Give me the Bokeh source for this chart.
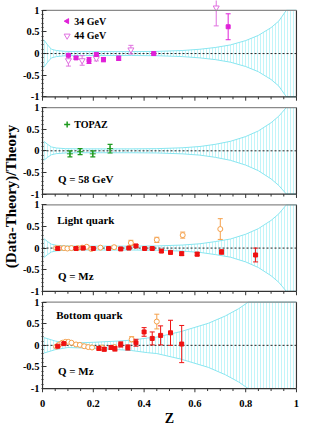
import numpy as np
from bokeh.plotting import figure
from bokeh.models import Range1d, FixedTicker, Label, Title
from bokeh.embed import file_html
from bokeh.resources import INLINE

# ---------------- data ----------------
x_ticks = [0.0, 0.2, 0.4, 0.6, 0.8, 1.0]
x_tick_labels = ["0", "0.2", "0.4", "0.6", "0.8", "1"]
y_ticks = [-1.0, -0.5, 0.0, 0.5, 1.0]
y_tick_labels = ["-1", "-0.5", "0", "0.5", "1"]

# theory uncertainty band (half width) for light-quark panels
band_z = [0.005, 0.02, 0.035, 0.055, 0.09, 0.15, 0.25, 0.35, 0.45, 0.55,
          0.62, 0.68, 0.74, 0.80, 0.85, 0.90, 0.93, 0.96, 1.0]
band_hw_34 = [0.32, 0.20, 0.10, 0.07, 0.05, 0.045, 0.045, 0.045, 0.05, 0.07,
              0.10, 0.14, 0.20, 0.30, 0.42, 0.60, 0.75, 1.0, 1.0]
band_hw_58 = [0.22, 0.15, 0.09, 0.065, 0.05, 0.045, 0.045, 0.045, 0.05, 0.07,
              0.10, 0.15, 0.22, 0.33, 0.46, 0.65, 0.80, 1.0, 1.0]
band_hw_light = [0.22, 0.15, 0.09, 0.065, 0.05, 0.045, 0.045, 0.045, 0.05, 0.07,
                 0.10, 0.15, 0.21, 0.32, 0.45, 0.64, 0.79, 1.0, 1.0]
# band for bottom-quark panel
band_z_b = [0.005, 0.05, 0.10, 0.20, 0.30, 0.35, 0.414, 0.45, 0.546, 0.653,
            0.72, 0.773, 0.81, 1.0]
band_hw_b = [0.18, 0.10, 0.05, 0.07, 0.10, 0.12, 0.17, 0.19, 0.32, 0.51,
             0.68, 0.85, 1.0, 1.0]

# panel 1: 34 GeV and 44 GeV
gev34_z = [0.102, 0.132, 0.183, 0.212, 0.24, 0.30, 0.438, 0.731]
gev34_v = [-0.04, -0.10, -0.16, -0.02, -0.14, -0.11, 0.00, 0.62]
gev34_e = [0.03, 0.03, 0.07, 0.03, 0.05, 0.05, 0.04, 0.30]
gev44_z = [0.102, 0.156, 0.212, 0.348, 0.684]
gev44_v = [-0.16, -0.16, -0.11, 0.09, 1.06]
gev44_e = [0.13, 0.11, 0.06, 0.10, 0.42]

# panel 2: TOPAZ 58 GeV
topaz_z = [0.108, 0.148, 0.198, 0.266]
topaz_v = [-0.07, -0.02, -0.07, 0.05]
topaz_e = [0.07, 0.07, 0.07, 0.10]

# panel 3: light quark, Q = Mz
lq_o_z = [0.054, 0.068, 0.084, 0.098, 0.114, 0.138, 0.156, 0.174, 0.192, 0.228,
          0.282, 0.348, 0.45, 0.552, 0.70]
lq_o_v = [0.0, 0.0, 0.0, -0.01, 0.0, 0.0, 0.01, 0.03, -0.02, 0.01,
          0.02, 0.12, 0.19, 0.30, 0.44]
lq_o_e = [0.02, 0.02, 0.02, 0.02, 0.02, 0.02, 0.02, 0.03, 0.03, 0.02,
          0.03, 0.06, 0.06, 0.07, 0.24]
lq_r_z = [0.06, 0.132, 0.16, 0.20, 0.26, 0.308, 0.34, 0.368, 0.402, 0.432,
          0.468, 0.504, 0.548, 0.609, 0.705, 0.839]
lq_r_v = [-0.01, -0.01, 0.0, -0.01, -0.01, -0.02, 0.0, 0.05, -0.01, -0.01,
          -0.07, -0.10, -0.13, -0.14, -0.09, -0.16]
lq_r_e = [0.02, 0.02, 0.02, 0.02, 0.02, 0.02, 0.02, 0.03, 0.02, 0.02,
          0.03, 0.03, 0.04, 0.04, 0.05, 0.16]

# panel 4: bottom quark, Q = Mz
bq_o_z = [0.054, 0.066, 0.078, 0.09, 0.102, 0.114, 0.132, 0.147, 0.164, 0.18,
          0.195, 0.234, 0.282, 0.351, 0.45]
bq_o_v = [-0.03, 0.02, 0.06, 0.08, 0.08, 0.06, 0.02, 0.01, -0.02, -0.04,
          -0.05, -0.05, -0.04, 0.14, 0.55]
bq_o_e = [0.02, 0.02, 0.02, 0.02, 0.02, 0.02, 0.02, 0.02, 0.02, 0.02,
          0.02, 0.03, 0.03, 0.06, 0.17]
bq_r_z = [0.06, 0.084, 0.222, 0.243, 0.27, 0.285, 0.308, 0.336, 0.368, 0.40,
          0.432, 0.465, 0.504, 0.548]
bq_r_v = [-0.02, 0.04, -0.07, -0.09, -0.05, -0.08, 0.02, -0.05, 0.06, 0.31,
          0.16, 0.23, 0.29, 0.03]
bq_r_e = [0.02, 0.02, 0.04, 0.04, 0.04, 0.05, 0.06, 0.06, 0.08, 0.10,
          0.15, 0.22, 0.29, 0.43]

# ---------------- layout ----------------
W, H = 300, 428
BL, BR, BB = 36, 3, 29
FH = H - BB
PX = 44.0          # pixels per unit of (Data-Theory)/Theory
GAP = 2.25         # panel spacing in units
TOP = 1 + 10 / PX
BOT = TOP - FH / PX

FONT = "Liberation Serif"
BAND_LINE = "#8ae6f0"
BAND_HATCH = "#c2f5f9"
FRAME = "#333333"

p = figure(width=W, height=H, x_range=Range1d(-0.004, 1.004),
           y_range=Range1d(BOT, TOP), output_backend="svg",
           toolbar_location=None, min_border_left=BL, min_border_right=BR,
           min_border_top=0, min_border_bottom=BB, outline_line_color=None)
p.grid.visible = False
names = ["default"]
for k in range(1, 4):
    nm = "p%d" % k
    p.extra_y_ranges[nm] = Range1d(BOT + GAP * k, TOP + GAP * k)
    names.append(nm)

# y axis: one ticker covering the four panels
ymaj, ylab = [], {}
ymin = []
for k in range(4):
    for t, lab in zip(y_ticks, y_tick_labels):
        ymaj.append(t - GAP * k)
        ylab[t - GAP * k] = lab
    for m in np.arange(-9, 10):
        if m % 5 != 0:
            ymin.append(m / 10.0 - GAP * k)
p.yaxis.ticker = FixedTicker(ticks=ymaj, minor_ticks=ymin)
p.yaxis.major_label_overrides = ylab
p.yaxis.axis_line_color = None
p.yaxis.major_tick_in = 5
p.yaxis.major_tick_out = 0
p.yaxis.minor_tick_in = 2
p.yaxis.minor_tick_out = 0
p.yaxis.major_tick_line_color = FRAME
p.yaxis.minor_tick_line_color = FRAME
p.yaxis.major_label_standoff = 2
p.yaxis.major_label_text_font = FONT
p.yaxis.major_label_text_font_style = "bold"
p.yaxis.major_label_text_font_size = "10.5px"
p.yaxis.major_label_text_color = "black"

p.xaxis.ticker = FixedTicker(ticks=x_ticks)
p.xaxis.major_label_overrides = dict(zip(x_ticks, x_tick_labels))
p.xaxis.axis_line_color = None
p.xaxis.major_tick_line_color = None
p.xaxis.minor_tick_line_color = None
p.xaxis.major_label_standoff = 1
p.xaxis.major_label_text_font = FONT
p.xaxis.major_label_text_font_style = "bold"
p.xaxis.major_label_text_font_size = "10.5px"
p.xaxis.major_label_text_color = "black"
p.xaxis.axis_label = "Z"
p.xaxis.axis_label_standoff = 1
p.xaxis.axis_label_text_font = FONT
p.xaxis.axis_label_text_font_style = "bold"
p.xaxis.axis_label_text_font_size = "14px"
p.xaxis.axis_label_text_color = "black"

p.add_layout(Title(text="(Data-Theory)/Theory", align="center",
                   standoff=1, text_font=FONT, text_font_style="bold",
                   text_font_size="15px", text_color="black"), "left")

x_minor = [m / 20.0 for m in range(1, 20) if m % 4 != 0]


def band(z, hw, rng):
    hw = np.array(hw)
    p.varea(x=z, y1=-hw, y2=hw, fill_color=None, hatch_pattern="|",
            hatch_color=BAND_HATCH, hatch_scale=3, hatch_weight=1,
            y_range_name=rng)
    p.line(z, hw, line_color=BAND_LINE, line_width=1, y_range_name=rng)
    p.line(z, -hw, line_color=BAND_LINE, line_width=1, y_range_name=rng)


def frame(rng):
    p.segment(x0=[0, 1], y0=[-1, -1], x1=[1, 1], y1=[-1, 1],
              line_color=FRAME, line_width=1.2, y_range_name=rng)
    p.segment(x0=[0], y0=[-1], x1=[0], y1=[1],
              line_color=FRAME, line_width=1.2, y_range_name=rng)
    p.segment(x0=[0], y0=[1], x1=[1], y1=[1],
              line_color="#8a8a8a", line_width=1.2, y_range_name=rng)
    p.segment(x0=x_ticks, y0=[-1] * len(x_ticks), x1=x_ticks,
              y1=[-1 - 4 / PX] * len(x_ticks), line_color=FRAME,
              line_width=1, y_range_name=rng)
    p.segment(x0=x_minor, y0=[-1] * len(x_minor), x1=x_minor,
              y1=[-1 - 2.5 / PX] * len(x_minor), line_color=FRAME,
              line_width=1, y_range_name=rng)


def zero(rng):
    p.segment(x0=[0], y0=[0], x1=[1], y1=[0], line_color="#222222",
              line_width=1, line_dash="2 2", y_range_name=rng)


def points(z, v, e, color, rng, marker="square", size=4, fill=True,
           lw=1.0):
    v = np.array(v)
    e = np.array(e)
    p.segment(x0=z, y0=v - e, x1=z, y1=v + e, line_color=color,
              line_width=lw, y_range_name=rng)
    p.scatter(z, v + e, marker="dash", size=5, line_color=color,
              line_width=lw, y_range_name=rng)
    p.scatter(z, v - e, marker="dash", size=5, line_color=color,
              line_width=lw, y_range_name=rng)
    p.scatter(z, v, marker=marker, size=size, line_color=color,
              fill_color=color if fill else "white", line_width=1,
              y_range_name=rng)


def text(x, y, s, rng, size="11px"):
    p.add_layout(Label(x=x, y=y, text=s, y_range_name=rng, text_font=FONT,
                       text_font_style="bold", text_font_size=size,
                       text_baseline="middle", text_color="black"))


MAG = "#e020d8"
MAG2 = "#e070e0"
GREEN = "#1f9a1f"
RED = "#ee1111"
ORANGE = "#f5a04a"

# panel 1
band(band_z, band_hw_34, names[0])
zero(names[0])
points(gev44_z, gev44_v, gev44_e, MAG2, names[0], marker="inverted_triangle",
       size=6, fill=False)
points(gev34_z, gev34_v, gev34_e, MAG, names[0], marker="square", size=4)
frame(names[0])
p.scatter([0.097], [0.75], marker="triangle", angle=np.pi / 2, size=5,
          line_color=MAG, fill_color=MAG)
p.scatter([0.097], [0.41], marker="inverted_triangle", size=6,
          line_color=MAG2, fill_color="white")
text(0.125, 0.75, "34 GeV", names[0], "10px")
text(0.125, 0.41, "44 GeV", names[0], "10px")

# panel 2
band(band_z, band_hw_58, names[1])
zero(names[1])
points(topaz_z, topaz_v, topaz_e, GREEN, names[1], marker="cross", size=6,
       lw=1.2)
frame(names[1])
p.scatter([0.097], [0.61], marker="cross", size=6, line_color=GREEN,
          line_width=1.5, y_range_name=names[1])
text(0.125, 0.61, "TOPAZ", names[1], "10px")
text(0.061, -0.66, "Q = 58 GeV", names[1])

# panel 3
band(band_z, band_hw_light, names[2])
zero(names[2])
points(lq_o_z, lq_o_v, lq_o_e, ORANGE, names[2], marker="circle", size=5,
       fill=False)
points(lq_r_z, lq_r_v, lq_r_e, RED, names[2], marker="square", size=4)
frame(names[2])
text(0.058, 0.66, "Light quark", names[2])
text(0.061, -0.64, "Q = Mz", names[2])

# panel 4
band(band_z_b, band_hw_b, names[3])
zero(names[3])
points(bq_o_z, bq_o_v, bq_o_e, ORANGE, names[3], marker="circle", size=5,
       fill=False)
points(bq_r_z, bq_r_v, bq_r_e, RED, names[3], marker="square", size=4)
frame(names[3])
text(0.054, 0.70, "Bottom quark", names[3])
text(0.061, -0.59, "Q = Mz", names[3])

open("out.html", "w").write(file_html(p, INLINE))
